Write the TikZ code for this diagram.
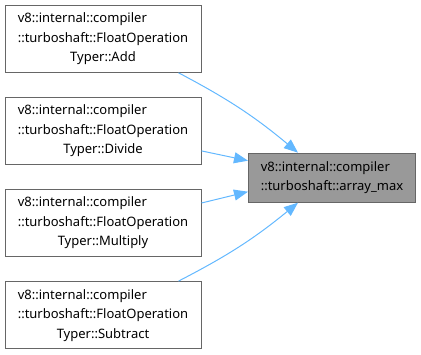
\documentclass[tikz,border=0pt]{standalone}
\usepackage{fontspec}
\setmainfont{Noto Sans}
\usepackage{xcolor}
\usetikzlibrary{arrows.meta}

\definecolor{edgeblue}{HTML}{63B8FF}
\definecolor{boxgray}{HTML}{999999}
\definecolor{framegray}{HTML}{666666}

% caller name: first two lines flush left, last one centred
\newcommand{\opname}[1]{\rlap{v8::internal::compiler}\phantom{::turboshaft::FloatOperation}\\::turboshaft::FloatOperation\\Typer::#1}

\begin{document}
\begin{tikzpicture}[x=1pt,y=-1pt,
    caller/.style={draw=framegray, fill=white, line width=1pt, inner sep=0pt,
        minimum width=196pt, minimum height=67pt, align=center,
        font=\fontsize{13}{19.5}\selectfont},
    callee/.style={caller, fill=boxgray, minimum width=167pt, minimum height=49pt, align=left},
    edge/.style={draw=edgeblue, line width=1pt, -{Triangle[length=14pt,width=11pt]}}]
    \def\lx{103}
    \def\dy{92.1}

    \useasboundingbox (0,0) rectangle (421,354);

    \node[caller] (add) at (\lx,38.8) {\opname{Add}};
    \node[caller] (divide) at (\lx,38.8+\dy) {\opname{Divide}};
    \node[caller] (multiply) at (\lx,38.8+2*\dy) {\opname{Multiply}};
    \node[caller] (subtract) at (\lx,38.8+3*\dy) {\opname{Subtract}};

    \node[callee] (max) at (332,177.7) {v8::internal::compiler\\::turboshaft::array\_max};

    %\draw[edge] (add) -- (max);
    \draw[edge] ([xshift=-23pt]add.south east) to[bend left=6] ([xshift=-34pt]max.north);
    \draw[edge] ([yshift=14pt]divide.south east) -- ([yshift=17pt]max.west);
    \draw[edge] ([yshift=-14pt]multiply.north east) -- ([yshift=-14pt]max.west);
    \draw[edge] ([xshift=-23pt]subtract.north east) to[bend right=6] ([xshift=-34pt]max.south);

\end{tikzpicture}
\end{document}
